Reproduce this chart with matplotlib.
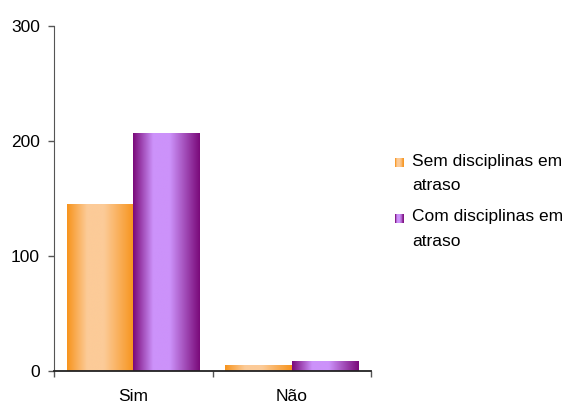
import numpy as np
import matplotlib.pyplot as plt
from matplotlib.patches import Rectangle
from matplotlib.colors import LinearSegmentedColormap
from matplotlib.legend_handler import HandlerBase

plt.rcParams['font.family'] = ['Liberation Sans', 'DejaVu Sans']

categories = ['Sim', 'Não']
series_names = ['Sem disciplinas em\natraso', 'Com disciplinas em\natraso']
sem_atraso = [145, 5]
com_atraso = [207, 9]
yticks = [0, 100, 200, 300]

# gradient colours (edge, centre)
orange = LinearSegmentedColormap.from_list('o', ['#F7941D', '#FCCB98'])
purple = LinearSegmentedColormap.from_list('p', ['#7A0A7A', '#CC92FA'])
cmaps = [orange, purple]

# horizontal profile: dark at edges, light in the middle
xs = np.linspace(0, 1, 200)
profile = np.interp(xs, [0, 0.3, 0.55, 1], [0, 1, 1, 0])
grad = profile[np.newaxis, :]

fig = plt.figure(figsize=(5.66, 4.03), dpi=100)
ax = fig.add_axes([0.0954, 0.0794, 0.5601, 0.8561])

width = 0.42
x = np.arange(len(categories))
for i, (vals, cm) in enumerate(zip([sem_atraso, com_atraso], cmaps)):
    offs = (i - 0.5) * width
    bars = ax.bar(x + offs, vals, width, color='none', edgecolor='none')
    for b in bars:
        x0, y0 = b.get_x(), b.get_y()
        w, h = b.get_width(), b.get_height()
        im = ax.imshow(grad, cmap=cm, aspect='auto', extent=[x0, x0 + w, y0, y0 + h],
                       vmin=0, vmax=1, zorder=2, interpolation='bilinear')
        im.set_clip_path(b)

ax.set_xlim(-0.5, 1.5)
ax.set_ylim(0, 300)
ax.set_yticks(yticks)
ax.tick_params(axis='y', direction='out', length=4, width=1, color='#555555',
               labelsize=12.5, pad=6)
ax.set_xticks([-0.5, 0.5, 1.5])
ax.set_xticklabels([])
ax.set_xticks(x, minor=True)
ax.set_xticklabels(categories, minor=True)
ax.tick_params(axis='x', which='major', direction='out', length=4, width=1, color='#555555')
ax.tick_params(axis='x', which='minor', length=0, labelsize=12.5, pad=13)

for s in ['top', 'right']:
    ax.spines[s].set_visible(False)
ax.spines['left'].set_color('#555555')
ax.spines['bottom'].set_color('#222222')
ax.spines['bottom'].set_linewidth(1.3)


class GradHandler(HandlerBase):
    def __init__(self, cm):
        super().__init__()
        self.cm = cm

    def create_artists(self, legend, orig_handle, xdescent, ydescent, width, height, fontsize, trans):
        n = 12
        side = height * 0.75
        left = (width - side) / 2 - xdescent + 1.5
        bottom = -ydescent + height - side + 6.5
        arts = []
        for k in range(n):
            c = self.cm(np.interp((k + 0.5) / n, [0, 0.3, 0.55, 1], [0, 1, 1, 0]))
            r = Rectangle((left + k * side / n, bottom), side / n + 0.05, side,
                          facecolor=c, edgecolor='none', transform=trans)
            arts.append(r)
        return arts


h1 = Rectangle((0, 0), 1, 1)
h2 = Rectangle((0, 0), 1, 1)
leg = fig.legend([h1, h2], series_names, loc='upper left', bbox_to_anchor=(0.676, 0.64),
                 frameon=False, fontsize=12.5, handlelength=0.7, handleheight=0.7,
                 handletextpad=0.5, labelspacing=0.9, borderpad=0,
                 handler_map={h1: GradHandler(orange), h2: GradHandler(purple)})
for t in leg.get_texts():
    t.set_linespacing(1.8)

fig.savefig('out.png', dpi=100)
